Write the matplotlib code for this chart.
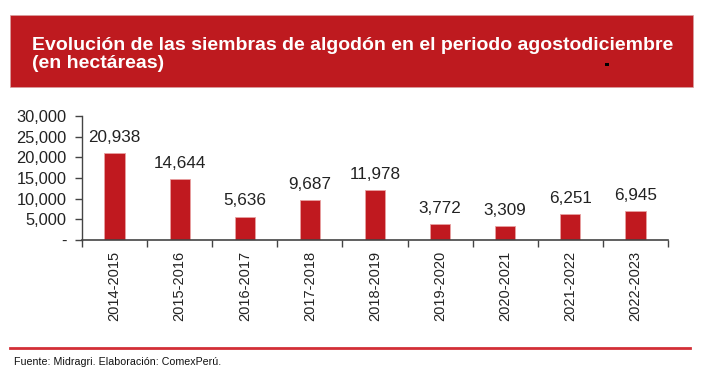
import matplotlib
matplotlib.use("Agg")
import matplotlib.pyplot as plt
from matplotlib.patches import Rectangle
from matplotlib.lines import Line2D

categories = ["2014-2015", "2015-2016", "2016-2017", "2017-2018", "2018-2019",
              "2019-2020", "2020-2021", "2021-2022", "2022-2023"]
values = [20938, 14644, 5636, 9687, 11978, 3772, 3309, 6251, 6945]
yticks = [0, 5000, 10000, 15000, 20000, 25000, 30000]
ytick_labels = ["-", "5,000", "10,000", "15,000", "20,000", "25,000", "30,000"]

plt.rcParams['font.family'] = ['Liberation Sans', 'DejaVu Sans']

W, H = 709, 383
fig = plt.figure(figsize=(W / 100, H / 100), dpi=100)

# Banner
fig.patches.append(Rectangle((10 / W, 1 - 87 / H), 683 / W, 72 / H,
                             transform=fig.transFigure, facecolor="#BE1A1F",
                             edgecolor="#D9A0A0", linewidth=0.5))
fig.text(32 / W, 1 - 46 / H, "Evolución de las siembras de algodón en el periodo agostodiciembre",
         color="white", fontsize=14, fontweight="bold", va="center", ha="left")
fig.text(32 / W, 1 - 63 / H, "(en hectáreas)",
         color="white", fontsize=14, fontweight="bold", va="center", ha="left")
fig.patches.append(Rectangle((605 / W, 1 - 66 / H), 4 / W, 3 / H,
                             transform=fig.transFigure, facecolor="black"))

# Axes
ax = fig.add_axes([82 / W, 1 - 240 / H, 586 / W, 124 / H])
x = list(range(len(categories)))
ax.bar(x, values, width=0.31, color="#C0191F", edgecolor="#E8A0A0", linewidth=0.6)
for xi, v in zip(x, values):
    ax.annotate(f"{v:,}", (xi, v), xytext=(0, 6), textcoords="offset points",
                ha="center", va="bottom", fontsize=12.3, color="#222222")

ax.set_xlim(-0.5, len(categories) - 0.5)
ax.set_ylim(0, 30000)
ax.set_yticks(yticks)
ax.set_yticklabels(ytick_labels, fontsize=11.8, color="#222222")
ax.set_xticks(x)
ax.set_xticklabels(categories, rotation=90, fontsize=10.5, color="#222222")
ax.tick_params(axis="x", length=0, pad=8)
ax.set_xticks([i - 0.5 for i in range(len(categories) + 1)], minor=True)
ax.tick_params(axis="x", which="minor", length=5, width=1, color="#444444", direction="out")
ax.tick_params(axis="y", length=5, width=1, color="#444444", direction="out", pad=6)
for s in ["top", "right"]:
    ax.spines[s].set_visible(False)
ax.spines["left"].set_color("#444444")
ax.spines["bottom"].set_color("#444444")
ax.spines["left"].set_linewidth(1)
ax.spines["bottom"].set_linewidth(1.2)

# Footer line and text
fig.lines.append(Line2D([10 / W, 690 / W], [1 - 348 / H, 1 - 348 / H],
                        transform=fig.transFigure, color="#D32F37", linewidth=2))
fig.text(14 / W, 1 - 362 / H, "Fuente: Midragri. Elaboración: ComexPerú.",
         fontsize=7.7, color="#111111", va="center", ha="left")

fig.savefig("out.png", dpi=100)
